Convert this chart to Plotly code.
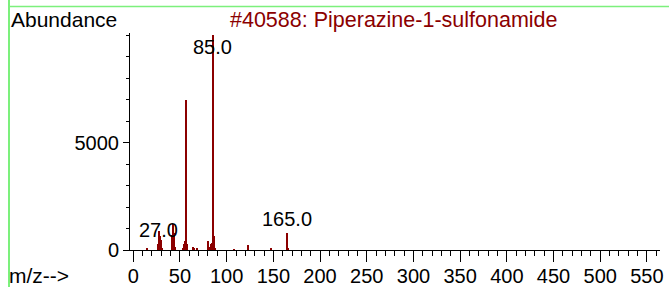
import plotly.graph_objects as go

# ---- data ----
mz = [15, 26, 27, 28, 29, 30, 31, 41, 42, 43, 44, 45, 53, 54, 55, 56, 57, 58,
      64, 65, 68, 80, 82, 83, 84, 85, 86, 87, 108, 123, 148, 165, 166]
abundance = [80, 60, 300, 900, 650, 450, 60, 250, 700, 1200, 800, 150, 80, 300, 400, 7000, 750, 300,
             150, 60, 50, 430, 120, 290, 310, 9999, 640, 80, 40, 230, 60, 800, 50]
label_mz = [27, 85, 165]
label_text = ["27.0", "85.0", "165.0"]
x_ticks = [0, 50, 100, 150, 200, 250, 300, 350, 400, 450, 500, 550]
y_ticks = [0, 5000]
title_text = "#40588: Piperazine-1-sulfonamide"

X_RANGE = [-3.5, 564]
Y_RANGE = [0, 10110]

W, H = 669, 287
L, R, T, B = 130, 9, 33, 37
PW, PH = W - L - R, H - T - B


def px_x(px):
    return (px - L) / PW


def px_y(py):
    return (H - B - py) / PH


FONT = "Liberation Sans, Arial, sans-serif"
BAR_COLOR = "#8b0000"
TXT = 21
TITLE = 21.5
TICK = 20

fig = go.Figure()
fig.add_trace(go.Bar(x=mz, y=abundance, width=1.1,
                     marker=dict(color=BAR_COLOR, line=dict(width=0)),
                     hoverinfo="skip"))

heights = dict(zip(mz, abundance))
annotations = []
for m, t in zip(label_mz, label_text):
    h = heights[m]
    if h > Y_RANGE[1] * 0.9:
        annotations.append(dict(x=m, y=Y_RANGE[1], xref="x", yref="y", text=t,
                                showarrow=False, yanchor="top", yshift=-1,
                                font=dict(size=TICK, color="black", family=FONT)))
    else:
        annotations.append(dict(x=m, y=h, xref="x", yref="y", text=t,
                                showarrow=False, yanchor="bottom", yshift=1,
                                font=dict(size=TICK, color="black", family=FONT)))

annotations += [
    dict(x=px_x(9), y=px_y(19), xref="paper", yref="paper", text="Abundance",
         showarrow=False, xanchor="left", yanchor="middle",
         font=dict(size=TXT, color="black", family=FONT)),
    dict(x=px_x(394), y=px_y(20), xref="paper", yref="paper", text=title_text,
         showarrow=False, xanchor="center", yanchor="middle",
         font=dict(size=TITLE, color="#8b0000", family=FONT)),
    dict(x=px_x(7), y=px_y(275), xref="paper", yref="paper", text="m/z-->",
         showarrow=False, xanchor="left", yanchor="middle",
         font=dict(size=TXT, color="black", family=FONT)),
    dict(x=px_x(9), y=px_y(-7.5), xref="paper", yref="paper", text="m/z-->",
         showarrow=False, xanchor="left", yanchor="middle",
         font=dict(size=TXT, color="black", family=FONT)),
]

shapes = [
    dict(type="line", xref="paper", yref="paper", x0=px_x(9), x1=px_x(9),
         y0=px_y(0), y1=px_y(H), line=dict(color="#7cf07c", width=2)),
    dict(type="line", xref="paper", yref="paper", x0=px_x(9), x1=px_x(W),
         y0=px_y(6.5), y1=px_y(6.5), line=dict(color="#7cf07c", width=1.5)),
]

fig.update_layout(
    width=W, height=H,
    margin=dict(l=L, r=R, t=T, b=B, autoexpand=False),
    paper_bgcolor="white", plot_bgcolor="white",
    showlegend=False,
    bargap=0,
    annotations=annotations,
    shapes=shapes,
    font=dict(family=FONT, size=TICK, color="black"),
)
fig.update_xaxes(
    range=X_RANGE, tickmode="array", tickvals=x_ticks,
    ticktext=[str(v) for v in x_ticks], automargin=False,
    ticks="outside", ticklen=11, tickwidth=1, tickcolor="black",
    ticklabelstandoff=-3,
    minor=dict(dtick=10, tick0=0, ticks="outside", ticklen=5, tickcolor="black", tickwidth=1),
    showline=True, linecolor="black", linewidth=1,
    showgrid=False, zeroline=False,
    tickfont=dict(size=TICK, family=FONT, color="black"),
)
fig.update_yaxes(
    range=Y_RANGE, tickmode="array", tickvals=y_ticks,
    ticktext=[str(v) for v in y_ticks], automargin=False,
    ticks="outside", ticklen=6, tickwidth=1, tickcolor="black",
    minor=dict(dtick=1000, tick0=0, ticks="outside", ticklen=3, tickcolor="black", tickwidth=1),
    showline=True, linecolor="black", linewidth=1,
    showgrid=False, zeroline=False,
    tickfont=dict(size=TICK, family=FONT, color="black"),
)

fig.write_html("out.html", config={"displayModeBar": False},
               post_script="document.body.style.margin='0';document.body.style.overflow='hidden';")
